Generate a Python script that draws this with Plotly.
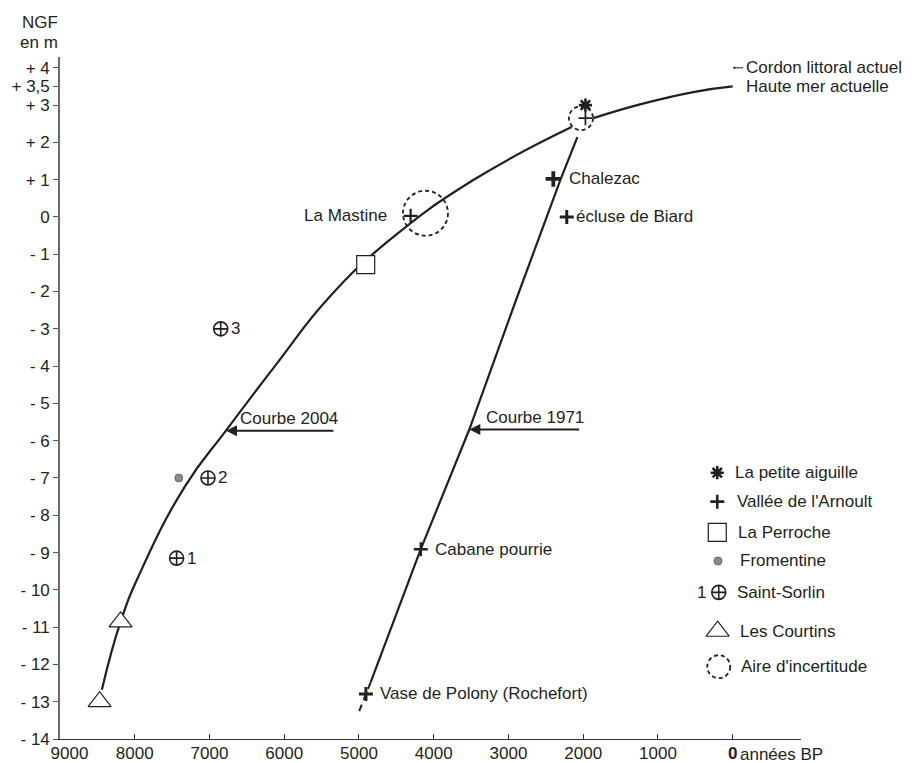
import plotly.graph_objects as go

FONT = "Liberation Sans, Arial, Helvetica, sans-serif"
INK = "#231f20"
FS = 17

# ---- data (age in years BP, altitude in m NGF) ----
# Courbe 2004; None breaks the line inside the upper uncertainty ring
curve2004_age = [8440, 8190, 7930, 7330, 6780, 6097, 5410, 4585, 3470, 2155, None, 1865, 1240, 527, 0]
curve2004_z = [-12.68, -10.86, -9.55, -7.23, -5.73, -3.925, -2.18, -0.61, 0.99, 2.41, None,
               2.65, 3.02, 3.35, 3.5]

# Courbe 1971 (solid part, then the dashed lower extension)
curve1971_age = [2078, 2300, 2890, 3524, 4173, 4844]
curve1971_z = [2.14, 1.02, -2.18, -5.70, -8.91, -12.48]
curve1971_ext_age = [4844, 5018]
curve1971_ext_z = [-12.48, -13.36]

# La petite aiguille
aiguille_age = [1970]
aiguille_z = [3.0]

# Vallée de l'Arnoult
arnoult_names = ["", "Chalezac", "écluse de Biard", "La Mastine", "Cabane pourrie",
                 "Vase de Polony (Rochefort)"]
arnoult_age = [1970, 2400, 2220, 4309, 4173, 4907]
arnoult_z = [2.65, 1.02, 0.0, 0.03, -8.91, -12.79]

# La Perroche
perroche_age = [4910]
perroche_z = [-1.28]

# Fromentine
fromentine_age = [7410]
fromentine_z = [-7.0]

# Saint-Sorlin
sorlin_labels = ["1", "2", "3"]
sorlin_age = [7440, 7020, 6850]
sorlin_z = [-9.15, -7.0, -3.0]

# Les Courtins
courtins_age = [8190, 8470]
courtins_z = [-10.86, -13.0]

# Aires d'incertitude (centres)
uncert_age = [2030, 4110]
uncert_z = [2.65, 0.1]

# Present-day reference levels
cordon_z = 4.0
haute_mer_z = 3.5

# Axis ticks
x_ticks = [9000, 8000, 7000, 6000, 5000, 4000, 3000, 2000, 1000, 0]
y_ticks = [4, 3.5, 3, 2, 1, 0] + [-v for v in range(1, 15)]

legend_labels = ["La petite aiguille", "Vallée de l'Arnoult", "La Perroche", "Fromentine",
                 "Saint-Sorlin", "Les Courtins", "Aire d'incertitude"]


def y_label(v):
    if v == 0:
        return "0"
    s = ("%g" % abs(v)).replace(".", ",")
    return ("+ " if v > 0 else "- ") + s


def x_label(v):
    if v == 0:
        return "<b>0</b>"
    if v == max(x_ticks):
        return "\u00a0\u00a0\u00a0\u00a0" + str(v)
    return str(v)


fig = go.Figure()

fig.add_trace(go.Scatter(x=curve2004_age, y=curve2004_z, mode="lines",
                         line=dict(shape="spline", smoothing=1.3, color=INK, width=2.2),
                         connectgaps=False, hoverinfo="skip"))
fig.add_trace(go.Scatter(x=curve1971_age, y=curve1971_z, mode="lines",
                         line=dict(color=INK, width=2.2), hoverinfo="skip"))
fig.add_trace(go.Scatter(x=curve1971_ext_age, y=curve1971_ext_z, mode="lines",
                         line=dict(color=INK, width=2.0, dash="7px,5px"), hoverinfo="skip"))

# site markers
fig.add_trace(go.Scatter(x=perroche_age, y=perroche_z, mode="markers",
                         marker=dict(symbol="square", size=18, color="white", opacity=1,
                                     line=dict(color=INK, width=1.2))))
fig.add_trace(go.Scatter(x=courtins_age, y=courtins_z, mode="markers",
                         marker=dict(symbol="triangle-up", size=20, color="white", opacity=1,
                                     line=dict(color=INK, width=1.2))))
fig.add_trace(go.Scatter(x=fromentine_age, y=fromentine_z, mode="markers",
                         marker=dict(symbol="circle", size=8, color="#8a8a8a", opacity=1,
                                     line=dict(color="#5a5a5a", width=0.8))))
fig.add_trace(go.Scatter(x=sorlin_age, y=sorlin_z, mode="markers",
                         marker=dict(symbol="circle-cross-open", size=14, color=INK, opacity=1,
                                     line=dict(color=INK, width=1.6))))
fig.add_trace(go.Scatter(x=arnoult_age, y=arnoult_z, mode="markers",
                         marker=dict(symbol="cross-thin", size=[10, 11, 10, 10, 10, 10], color=INK,
                                     opacity=1,
                                     line=dict(color=INK, width=[1.8, 3.8, 3.0, 2.2, 2.4, 3.0]))))
fig.add_trace(go.Scatter(x=aiguille_age, y=aiguille_z, mode="markers",
                         marker=dict(symbol="asterisk-open", size=11, color=INK, opacity=1,
                                     line=dict(color=INK, width=2.6))))

# key symbols, drawn on an overlay axis spanning the plot area (0..1)
key_x = [0.887, 0.887, 0.887, 0.888, 0.889, 0.8875]
key_y = [0.3905, 0.348, 0.303, 0.261, 0.215, 0.158]
key_styles = [
    dict(symbol="asterisk-open", size=11, color=INK, line=dict(color=INK, width=2.6)),
    dict(symbol="cross-thin", size=10, color=INK, line=dict(color=INK, width=2.6)),
    dict(symbol="square", size=18, color="white", line=dict(color=INK, width=1.2)),
    dict(symbol="circle", size=8, color="#8a8a8a", line=dict(color="#5a5a5a", width=0.8)),
    dict(symbol="circle-cross-open", size=14, color=INK, line=dict(color=INK, width=1.6)),
    dict(symbol="triangle-up", size=20, color="white", line=dict(color=INK, width=1.2)),
]
for kx, ky, st in zip(key_x, key_y, key_styles):
    fig.add_trace(go.Scatter(x=[kx], y=[ky], mode="markers", marker=dict(opacity=1, **st),
                             xaxis="x2", yaxis="y2", hoverinfo="skip", cliponaxis=False))

key_text_x = [0.9085, 0.911, 0.912, 0.9145, 0.911, 0.9155, 0.9167]
key_text_y = key_y + [0.106]

annotations = []
for tx, ty, lab in zip(key_text_x, key_text_y, legend_labels):
    annotations.append(dict(x=tx, y=ty, xref="paper", yref="paper", text=lab,
                            xanchor="left", yanchor="middle", showarrow=False))
annotations.append(dict(x=0.874, y=0.215, xref="paper", yref="paper", text=sorlin_labels[0],
                        xanchor="right", yanchor="middle", showarrow=False))

# site names beside the Arnoult crosses
name_shift = {"Chalezac": 14, "écluse de Biard": 7, "La Mastine": -22,
              "Cabane pourrie": 12, "Vase de Polony (Rochefort)": 12}
for a, z, n in zip(arnoult_age, arnoult_z, arnoult_names):
    if not n:
        continue
    sh = name_shift[n]
    annotations.append(dict(x=a, y=z, text=n, showarrow=False, xshift=sh,
                            xanchor="right" if sh < 0 else "left", yanchor="middle"))

# Saint-Sorlin numbers
for a, z, lab in zip(sorlin_age, sorlin_z, sorlin_labels):
    annotations.append(dict(x=a, y=z, text=lab, showarrow=False, xshift=8,
                            xanchor="left", yanchor="middle"))

# curve names with pointing arrows
for tip_age, tip_z, tail_age, name in [(6779, -5.73, 5321, "Courbe 2004"),
                                       (3524, -5.70, 2033, "Courbe 1971")]:
    annotations.append(dict(x=tip_age, y=tip_z, ax=tail_age, ay=tip_z, axref="x", ayref="y",
                            text="", showarrow=True, arrowhead=2, arrowsize=1.1,
                            arrowwidth=2, arrowcolor=INK, standoff=0))
    annotations.append(dict(x=tail_age, y=tip_z, text=name, showarrow=False,
                            xanchor="right", yanchor="bottom", xshift=5, yshift=1))

# present-day levels
annotations.append(dict(x=0, y=cordon_z, ax=12, ay=0, text="", showarrow=True,
                        arrowhead=2, arrowsize=0.5, arrowwidth=1, arrowcolor=INK, standoff=0))
annotations.append(dict(x=0, y=cordon_z, text="Cordon littoral actuel", showarrow=False,
                        xanchor="left", yanchor="middle", xshift=11))
annotations.append(dict(x=0, y=haute_mer_z, text="Haute mer actuelle", showarrow=False,
                        xanchor="left", yanchor="middle", xshift=11))

# axis titles
annotations.append(dict(x=0, y=1, xref="paper", yref="paper", text="NGF", showarrow=False,
                        xanchor="right", yanchor="middle", yshift=35))
annotations.append(dict(x=0, y=1, xref="paper", yref="paper", text="en m", showarrow=False,
                        xanchor="right", yanchor="middle", yshift=15))
annotations.append(dict(x=0, y=0, xref="x", yref="paper", text="années BP", showarrow=False,
                        xanchor="left", yanchor="top", xshift=5, yshift=-4))

# dashed uncertainty rings
shapes = []
for a, z, r in zip(uncert_age, uncert_z, [12, 22.5]):
    shapes.append(dict(type="circle", xref="x", yref="y", xsizemode="pixel", ysizemode="pixel",
                       xanchor=a, yanchor=z, x0=-r, x1=r, y0=-r, y1=r,
                       line=dict(color=INK, width=1.8, dash="4px,3px")))
shapes.append(dict(type="circle", xref="paper", yref="paper", xsizemode="pixel", ysizemode="pixel",
                   xanchor=0.889, yanchor=0.106, x0=-11.5, x1=11.5, y0=-11.5, y1=11.5,
                   line=dict(color=INK, width=1.8, dash="4px,3px")))

fig.update_layout(
    width=921, height=763,
    margin=dict(l=60, r=120, t=57, b=24),
    paper_bgcolor="white", plot_bgcolor="white",
    showlegend=False,
    font=dict(family=FONT, size=FS, color=INK),
    annotations=annotations,
    shapes=shapes,
    xaxis=dict(range=[9000, -914], tickvals=x_ticks, ticktext=[x_label(v) for v in x_ticks],
               showgrid=False, zeroline=False, showline=True, linecolor="#333333", linewidth=1.2,
               ticks="inside", ticklen=5, tickwidth=1, tickcolor="#333333",
               ticklabelstandoff=-2, automargin=False,
               tickfont=dict(family=FONT, size=FS, color=INK)),
    yaxis=dict(range=[-14, 4.29], tickvals=y_ticks, ticktext=[y_label(v) for v in y_ticks],
               showgrid=False, zeroline=False, showline=True, linecolor="#6b6b6b", linewidth=1.6,
               ticks="outside", ticklen=5, tickwidth=1, tickcolor="#555555", automargin=False,
               tickfont=dict(family=FONT, size=FS, color=INK)),
    xaxis2=dict(overlaying="x", range=[0, 1], visible=False, fixedrange=True),
    yaxis2=dict(overlaying="y", range=[0, 1], visible=False, fixedrange=True),
)

fig.write_html("out.html")
